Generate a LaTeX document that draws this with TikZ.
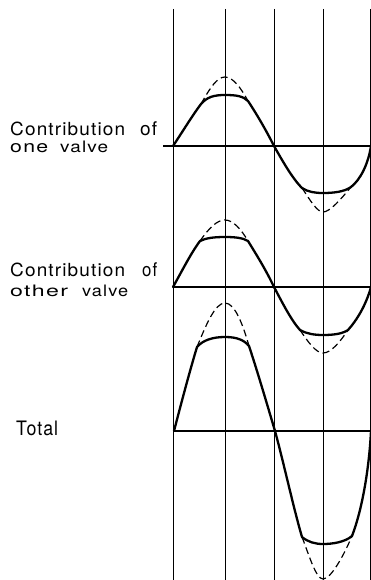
\documentclass[tikz,border=0pt]{standalone}
\usepackage{fontspec}
\usepackage{graphicx}
\setmainfont{TeX Gyre Heros}[LetterSpace=6]
\newcommand{\fitword}[3]{\resizebox{#1pt}{#2pt}{#3}}
\begin{document}
\begin{tikzpicture}[x=1pt,y=-1pt,
  gridline/.style={line width=0.9pt},
  axisline/.style={line width=1.4pt},
  wave/.style={line width=2.3pt, line join=round, line cap=round},
  ghost/.style={line width=1.2pt, dash pattern=on 7pt off 4pt},
  lbl/.style={anchor=base west, inner sep=0pt, align=left, font=\fontsize{18}{22}\selectfont}]
\useasboundingbox (0,0) rectangle (371,580);
% vertical grid lines
\foreach \x in {173,225,274,323,370.3}
  \draw[gridline] (\x,9) -- (\x,580);
% axes
\coordinate (a1l) at (163,146); \coordinate (a1r) at (371,146);
\coordinate (a2l) at (173,287); \coordinate (a2r) at (371,287);
\coordinate (a3l) at (173,431); \coordinate (a3r) at (371,431);
\draw[axisline] (a1l) -- (a1r);
\draw[axisline] (a2l) -- (a2r);
\draw[axisline] (a3l) -- (a3r);
% labels (base anchor = baseline of last line)
\node[lbl] (t1) at (10,152.5)
  {\makebox[130pt][l]{\fitword{115}{13.5}{Contribution}}\fitword{17}{13.8}{of}\\[-5.5pt]
   \makebox[50pt][l]{\fitword{38}{9}{one}}\fitword{48}{11.5}{valve}};
\node[lbl] (t2) at (10,296)
  {\makebox[132pt][l]{\fitword{115}{13.5}{Contribution}}\fitword{15}{13.8}{of}\\[-2pt]
   \makebox[72pt][l]{\fitword{58}{11.5}{other}}\fitword{46}{11.5}{valve}};
\node[lbl] (t3) at (16,435) {\fitword{42}{14.5}{Total}};
% wave 1
\draw[wave] (173,146) .. controls (183,131) and (192,116) .. (201,104)
  .. controls (207,97) and (214,95) .. (225,95)
  .. controls (236,95) and (243,96) .. (248,101)
  .. controls (256,113) and (266,130) .. (274,146)
  .. controls (282,160) and (292,178) .. (302,188)
  .. controls (308,192) and (315,193) .. (323,193)
  .. controls (333,193) and (344,192) .. (351,187)
  .. controls (360,180) and (368,165) .. (371,146);
\draw[ghost] (201,104) .. controls (210,88) and (217,77) .. (225,77)
  .. controls (233,77) and (241,88) .. (248,101);
\draw[ghost] (302,188) .. controls (310,200) and (317,212) .. (323,212)
  .. controls (330,212) and (341,199) .. (351,187);
% wave 2
\draw[wave] (173,287) .. controls (182,271) and (191,253) .. (200,241)
  .. controls (206,238) and (214,237) .. (225,237)
  .. controls (236,237) and (243,238) .. (248,241)
  .. controls (256,254) and (266,270) .. (274,287)
  .. controls (282,302) and (291,320) .. (300,330)
  .. controls (307,334) and (315,335) .. (323,335)
  .. controls (333,335) and (342,334) .. (348,330)
  .. controls (357,320) and (366,305) .. (371,287);
\draw[ghost] (200,241) .. controls (209,228) and (217,220) .. (225,220)
  .. controls (233,220) and (241,229) .. (248,241);
\draw[ghost] (300,330) .. controls (308,342) and (316,353) .. (323,353)
  .. controls (331,353) and (340,342) .. (348,330);
% wave 3 (total)
\draw[wave] (174,431) .. controls (181,404) and (190,370) .. (197,347)
  .. controls (203,340) and (213,337) .. (225,337)
  .. controls (237,337) and (244,340) .. (249,346)
  .. controls (257,370) and (267,404) .. (275,431)
  .. controls (283,460) and (294,510) .. (302,537)
  .. controls (308,542) and (315,544) .. (323,544)
  .. controls (333,544) and (345,542) .. (352,536)
  .. controls (362,510) and (369,470) .. (371,431);
\draw[ghost] (197,347) .. controls (206,325) and (215,303) .. (225,303)
  .. controls (235,303) and (243,325) .. (249,346);
\draw[ghost] (302,537) .. controls (309,555) and (316,579) .. (323,579)
  .. controls (331,579) and (344,555) .. (352,536);
\end{tikzpicture}
\end{document}
